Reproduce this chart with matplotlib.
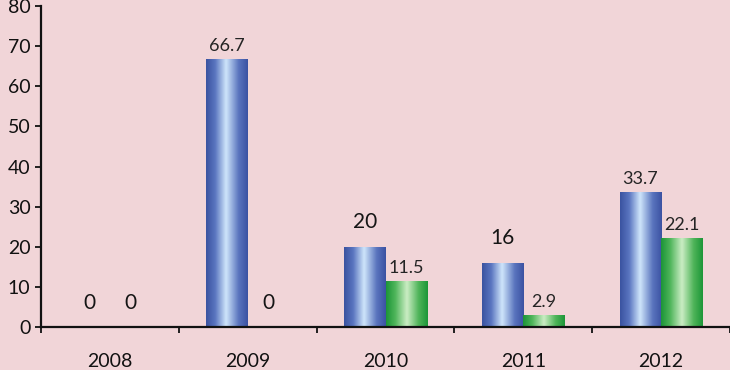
import numpy as np
import matplotlib.pyplot as plt
from matplotlib.colors import LinearSegmentedColormap

plt.rcParams['font.family'] = ['Lato', 'DejaVu Sans']

years = ['2008', '2009', '2010', '2011', '2012']
series_a = [0, 66.7, 20, 16, 33.7]
series_b = [0, 0, 11.5, 2.9, 22.1]

bg = '#f1d5d8'
blue_cm = LinearSegmentedColormap.from_list(
    'bl', [(0, '#3a52a0'), (0.22, '#5a75c0'), (0.48, '#cfe6fb'), (0.78, '#5a74be'), (1, '#3b52a2')])
green_cm = LinearSegmentedColormap.from_list(
    'gr', [(0, '#1b9437'), (0.22, '#4fb55a'), (0.5, '#cbedc4'), (0.78, '#4fb459'), (1, '#1c9638')])

fig = plt.figure(figsize=(7.3, 3.7), dpi=100)
fig.patch.set_facecolor(bg)
ax = fig.add_axes([41 / 730, 1 - 327 / 370, 689 / 730, 321 / 370])
ax.set_facecolor(bg)

x = np.arange(len(years))
w = 0.3
grad = np.linspace(0, 1, 256).reshape(1, -1)

for vals, off, cm in [(series_a, -w / 2, blue_cm), (series_b, w / 2, green_cm)]:
    bars = ax.bar(x + off, vals, w, color='none', edgecolor='none')
    for rect, v in zip(bars, vals):
        if v > 0:
            x0, y0 = rect.get_x(), rect.get_y()
            im = ax.imshow(grad, cmap=cm, aspect='auto', interpolation='bicubic',
                           extent=(x0, x0 + rect.get_width(), y0, y0 + rect.get_height()),
                           zorder=2)
            im.set_clip_path(rect)
        # whole numbers drawn larger and higher, like the original
        big = float(v).is_integer()
        ax.annotate(f'{v:g}', (rect.get_x() + rect.get_width() / 2, v),
                    xytext=(0, 17.5 if big else 9.5), textcoords='offset points',
                    ha='center', va='center', fontsize=15 if big else 13,
                    color='#151515' if big else '#242424', zorder=3)

ax.set_xlim(-0.5, len(years) - 0.5)
ax.set_ylim(0, 80)
ax.set_yticks(range(0, 81, 10))
ax.set_xticks(np.arange(-0.5, len(years), 1))
ax.set_xticklabels([])
ax.set_xticks(x, minor=True)
ax.set_xticklabels(years, minor=True)

for s in ['top', 'right']:
    ax.spines[s].set_visible(False)
for s in ['left', 'bottom']:
    ax.spines[s].set_linewidth(1.6)
    ax.spines[s].set_color('#111111')

ax.tick_params(axis='y', length=4.5, width=1.3, labelsize=14, pad=3, colors='#111111')
ax.tick_params(axis='x', which='major', length=4.5, width=1.3, colors='#111111')
ax.tick_params(axis='x', which='minor', length=0, labelsize=14, pad=18.5, labelcolor='#111111')

fig.savefig('out.png', dpi=100, facecolor=bg)
